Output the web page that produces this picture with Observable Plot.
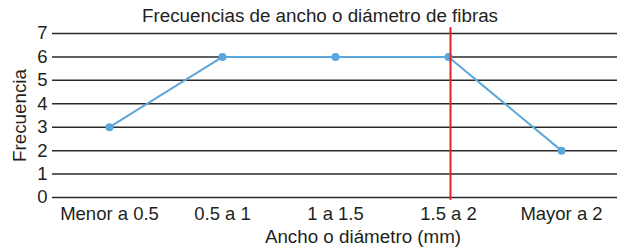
<!DOCTYPE html>
<html>
<head>
<meta charset="utf-8">
<script src="https://cdn.jsdelivr.net/npm/d3@7"></script>
<script src="https://cdn.jsdelivr.net/npm/@observablehq/plot@0.6"></script>
<style>
  html, body { margin: 0; padding: 0; background: #fff; }
</style>
</head>
<body>
<div id="chart"></div>
<script>
const categories = ["Menor a 0.5", "0.5 a 1", "1 a 1.5", "1.5 a 2", "Mayor a 2"];
const frecuencias = [3, 6, 6, 6, 2];
const yTicks = [0, 1, 2, 3, 4, 5, 6, 7];
const marker = ["1.5 a 2"];
const title = "Frecuencias de ancho o diámetro de fibras";
const xLabel = "Ancho o diámetro (mm)";
const yLabel = "Frecuencia";

const data = categories.map((c, i) => ({cat: c, f: frecuencias[i]}));
const blue = "#5ba7dc";
const ink = "#231f20";
const font = "'Liberation Sans', Arial, Helvetica, sans-serif";

const chart = Plot.plot({
  width: 618,
  height: 247,
  marginLeft: 52,
  marginRight: 1,
  marginTop: 33,
  marginBottom: 50,
  style: {fontFamily: font, fontSize: "18.5px", color: ink, background: "#fff"},
  x: {type: "point", domain: categories, padding: 0.5, label: null},
  y: {domain: [0, 7], label: null},
  marks: [
    Plot.ruleY(yTicks, {stroke: "#2a2a2a", strokeWidth: 1.5}),
    Plot.axisY(yTicks, {tickSize: 0, tickPadding: 5, label: null, fontSize: 18.5}),
    Plot.axisX({tickSize: 0, tickPadding: 9, label: null, fontSize: 18.5}),
    Plot.line(data, {x: "cat", y: "f", stroke: blue, strokeWidth: 2}),
    Plot.dot(data, {x: "cat", y: "f", fill: blue, r: 4}),
    Plot.ruleX(marker, {x: d => d, y1: 7.25, y2: -0.12, stroke: "#e3202b", strokeWidth: 2, dx: 2}),
    Plot.text([title], {frameAnchor: "top", lineAnchor: "middle", textAnchor: "middle", dy: -18, dx: -15, fontSize: 18.8, fill: ink}),
    Plot.text([xLabel], {frameAnchor: "bottom", lineAnchor: "middle", textAnchor: "middle", dy: 39, dx: 28, fontSize: 18.8, fill: ink}),
    Plot.text([yLabel], {frameAnchor: "left", lineAnchor: "middle", textAnchor: "middle", rotate: -90, dx: -33, fontSize: 18.8, fill: ink})
  ]
});
document.getElementById("chart").appendChild(chart);
</script>
</body>
</html>
